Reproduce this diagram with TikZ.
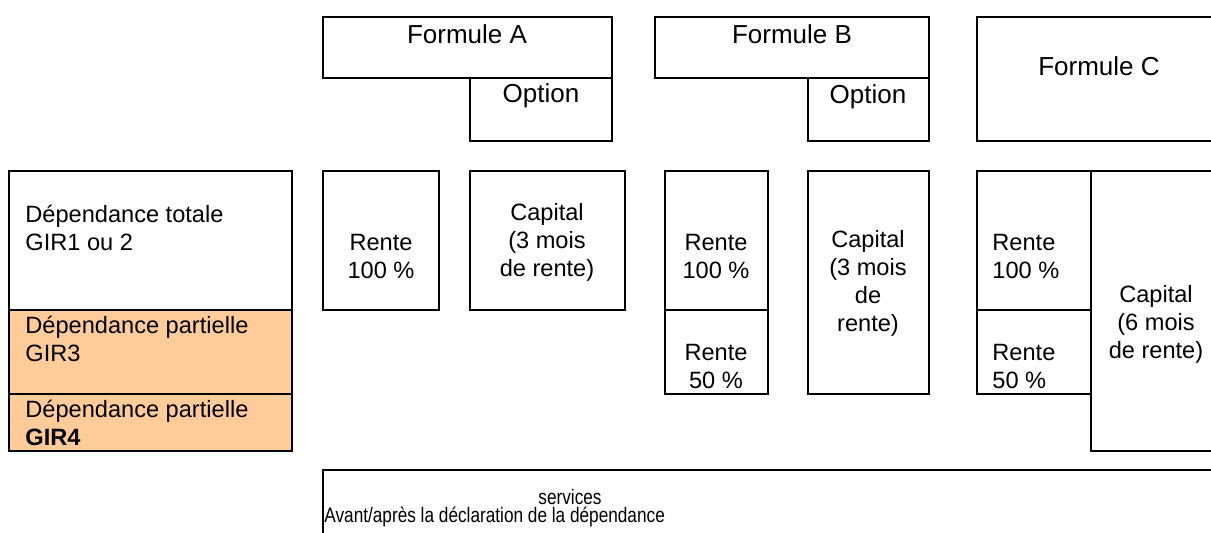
\documentclass[tikz,border=0pt]{standalone}
\usepackage{fontspec}
\setmainfont{Liberation Sans}
\newfontfamily\narrowsans[FakeStretch=0.82]{Liberation Sans}
\usetikzlibrary{positioning}
\definecolor{girorange}{RGB}{255,204,153}
\tikzset{
  cell/.style={draw, rectangle, line width=0.9pt, inner sep=0pt},
  girfill/.style={cell, fill=girorange},
  txt/.style={inner sep=0pt, align=center, font=\fontsize{11.8pt}{14pt}\selectfont},
  txtleft/.style={txt, align=left},
  headtxt/.style={inner sep=0pt, font=\fontsize{13pt}{15pt}\selectfont},
  smalltxt/.style={inner sep=0pt, font=\narrowsans\fontsize{10.5pt}{11pt}\selectfont}
}

\begin{document}
\begin{tikzpicture}[x=0.5pt, y=-0.5pt]

    \useasboundingbox (0,0) rectangle (1211,532);
    \clip (0,0) rectangle (1211,532);

    % Formules et options
    \node (formA) [cell, minimum width=144.5pt, minimum height=30.5pt] at (467.5,47.5) {};
    \node (optA) [cell, minimum width=71pt, minimum height=31.5pt] at (541,109.5) {};
    \node (formB) [cell, minimum width=137pt, minimum height=30.5pt] at (792,47.5) {};
    \node (optB) [cell, minimum width=60.5pt, minimum height=31.5pt] at (868.5,109.5) {};
    \node (formC) [cell, minimum width=122pt, minimum height=62pt] at (1099,79) {};

    \node (formAtxt) [headtxt] at (467,34) {Formule A};
    \node (optAtxt) [headtxt] at (541,96) {Option};
    \node (formBtxt) [headtxt] at (792,34) {Formule B};
    \node (optBtxt) [headtxt] at (868,97) {Option};
    \node (formCtxt) [headtxt] at (1099,66) {Formule C};

    % Niveaux de dependance
    \node (depTot) [cell, minimum width=141.5pt, minimum height=69.5pt] at (150.5,240.5) {};
    \node (depGIR3) [girfill, minimum width=141.5pt, minimum height=42pt] at (150.5,352) {};
    \node (depGIR4) [girfill, minimum width=141.5pt, minimum height=28.5pt] at (150.5,422.5) {};

    \node (depTottxt) [txtleft, anchor=west] at (25,227.5) {Dépendance totale\\GIR1 ou 2};
    \node (depGIR3txt) [txtleft, anchor=west] at (25,339) {Dépendance partielle\\GIR3};
    \node (depGIR4txt) [txtleft, anchor=west] at (25,422.5) {Dépendance partielle\\\textbf{GIR4}};

    % Formule A
    \node (renteA) [cell, minimum width=58pt, minimum height=69.5pt] at (381,240.5) {};
    \node (capA) [cell, minimum width=77.5pt, minimum height=69.5pt] at (547.5,240.5) {};
    \node (renteAtxt) [txt] at (381,256) {Rente\\100 \%};
    \node (capAtxt) [txt] at (547,242) {Capital\\(3 mois\\de rente)};

    % Formule B
    \node (renteBa) [cell, minimum width=51.5pt, minimum height=69.5pt] at (716.5,240.5) {};
    \node (renteBb) [cell, minimum width=51.5pt, minimum height=42pt] at (716.5,352) {};
    \node (capB) [cell, minimum width=60.5pt, minimum height=111.5pt] at (868.5,282.5) {};
    \node (renteBatxt) [txt] at (716,256) {Rente\\100 \%};
    \node (renteBbtxt) [txt] at (716,366.5) {Rente\\50 \%};
    \node (capBtxt) [txt] at (868,283.5) {Capital\\(3 mois\\de\\rente)};

    % Formule C
    \node (renteCa) [cell, minimum width=57pt, minimum height=69.5pt] at (1034,240.5) {};
    \node (renteCb) [cell, minimum width=57pt, minimum height=42pt] at (1034,352) {};
    \node (capC) [cell, minimum width=67pt, minimum height=140pt] at (1158,311) {};
    \node (renteCatxt) [txtleft, anchor=west] at (992,256) {Rente\\100 \%};
    \node (renteCbtxt) [txtleft, anchor=west] at (992,366.5) {Rente\\50 \%};
    \node (capCtxt) [txt] at (1156,324) {Capital\\(6 mois\\de rente)};

    % Services
    \node (serv) [cell, minimum width=488.5pt, minimum height=45pt] at (811.5,515) {};
    \node (servtxt) [smalltxt] at (570,497) {services};
    \node (avanttxt) [smalltxt, anchor=west] at (324,517) {Avant/après la déclaration de la dépendance};

\end{tikzpicture}
\end{document}
